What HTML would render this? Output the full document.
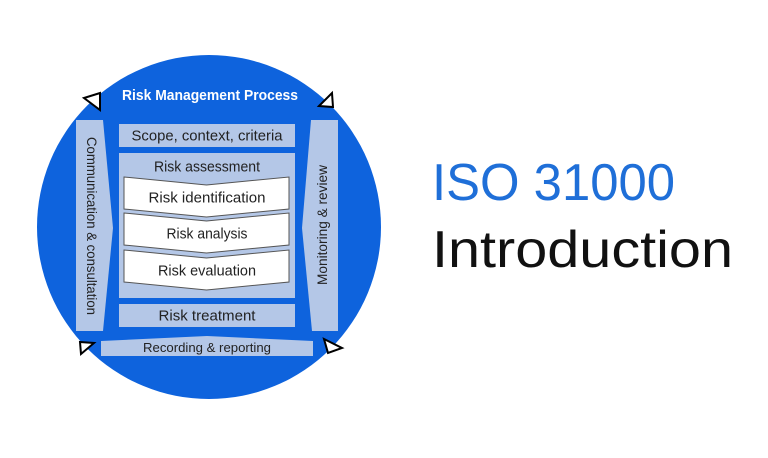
<!DOCTYPE html>
<html>
<head>
<meta charset="utf-8">
<style>
  html, body { margin:0; padding:0; background:#fff; }
  svg { display:block; }
  text { font-family: "Liberation Sans", sans-serif; }
</style>
</head>
<body>
<svg width="768" height="458" viewBox="0 0 768 458" xmlns="http://www.w3.org/2000/svg">
  <rect x="0" y="0" width="768" height="458" fill="#ffffff"/>
  <!-- big circle -->
  <circle cx="209" cy="227" r="172" fill="#0e63dd"/>

  <!-- title -->
  <text x="210" y="96" fill="#ffffff" font-size="14.5" font-weight="bold" text-anchor="middle" dominant-baseline="central" textLength="176" lengthAdjust="spacingAndGlyphs">Risk Management Process</text>

  <!-- left bar -->
  <polygon points="76,120 103,120 113,228 103,331 76,331" fill="#b4c7e7"/>
  <text transform="translate(92,226) rotate(90)" x="0" y="0" fill="#222" font-size="14" text-anchor="middle" dominant-baseline="central" textLength="178" lengthAdjust="spacingAndGlyphs">Communication &amp; consultation</text>

  <!-- right bar -->
  <polygon points="311,120 338,120 338,331 312,331 302,228" fill="#b4c7e7"/>
  <text transform="translate(322,225) rotate(-90)" x="0" y="0" fill="#222" font-size="14" text-anchor="middle" dominant-baseline="central" textLength="120" lengthAdjust="spacingAndGlyphs">Monitoring &amp; review</text>

  <!-- scope -->
  <rect x="119" y="124" width="176" height="23" fill="#b4c7e7"/>
  <text x="207" y="136" fill="#222" font-size="15" text-anchor="middle" dominant-baseline="central" textLength="151" lengthAdjust="spacingAndGlyphs">Scope, context, criteria</text>

  <!-- risk assessment -->
  <rect x="119" y="153" width="176" height="145" fill="#b4c7e7"/>
  <text x="207" y="167" fill="#222" font-size="15" text-anchor="middle" dominant-baseline="central" textLength="106" lengthAdjust="spacingAndGlyphs">Risk assessment</text>

  <!-- chevrons -->
  <polygon points="124,177 206.5,185 289,177 289,209 206.5,217 124,209" fill="#ffffff" stroke="#555" stroke-width="1"/>
  <text x="207" y="198" fill="#222" font-size="15" text-anchor="middle" dominant-baseline="central" textLength="117" lengthAdjust="spacingAndGlyphs">Risk identification</text>

  <polygon points="124,213 206.5,221 289,213 289,245 206.5,253 124,245" fill="#ffffff" stroke="#555" stroke-width="1"/>
  <text x="207" y="234" fill="#222" font-size="15" text-anchor="middle" dominant-baseline="central" textLength="81" lengthAdjust="spacingAndGlyphs">Risk analysis</text>

  <polygon points="124,250 206.5,258 289,250 289,282 206.5,290 124,282" fill="#ffffff" stroke="#555" stroke-width="1"/>
  <text x="207" y="271" fill="#222" font-size="15" text-anchor="middle" dominant-baseline="central" textLength="98" lengthAdjust="spacingAndGlyphs">Risk evaluation</text>

  <!-- risk treatment -->
  <rect x="119" y="304" width="176" height="23" fill="#b4c7e7"/>
  <text x="207" y="316" fill="#222" font-size="15" text-anchor="middle" dominant-baseline="central" textLength="97" lengthAdjust="spacingAndGlyphs">Risk treatment</text>

  <!-- recording -->
  <polygon points="101,341 207,336 313,341 313,356 101,356" fill="#b4c7e7"/>
  <text x="207" y="348" fill="#222" font-size="12.5" text-anchor="middle" dominant-baseline="central" textLength="128" lengthAdjust="spacingAndGlyphs">Recording &amp; reporting</text>

  <!-- arrowheads -->
  <polygon points="84,98 100,93 100,110" fill="#ffffff" stroke="#000" stroke-width="2" stroke-linejoin="miter"/>
  <polygon points="319,106 332,93 333,107" fill="#ffffff" stroke="#000" stroke-width="2" stroke-linejoin="miter"/>
  <polygon points="80,342 94,343 81,354" fill="#ffffff" stroke="#000" stroke-width="2" stroke-linejoin="miter"/>
  <polygon points="324,339 342,348 328,353" fill="#ffffff" stroke="#000" stroke-width="2" stroke-linejoin="miter"/>

  <!-- right side title -->
  <text x="432" y="200" fill="#1f6fd8" font-size="52" textLength="243" lengthAdjust="spacingAndGlyphs">ISO 31000</text>
  <text x="432" y="267" fill="#111111" font-size="52" textLength="301" lengthAdjust="spacingAndGlyphs">Introduction</text>
</svg>
</body>
</html>
